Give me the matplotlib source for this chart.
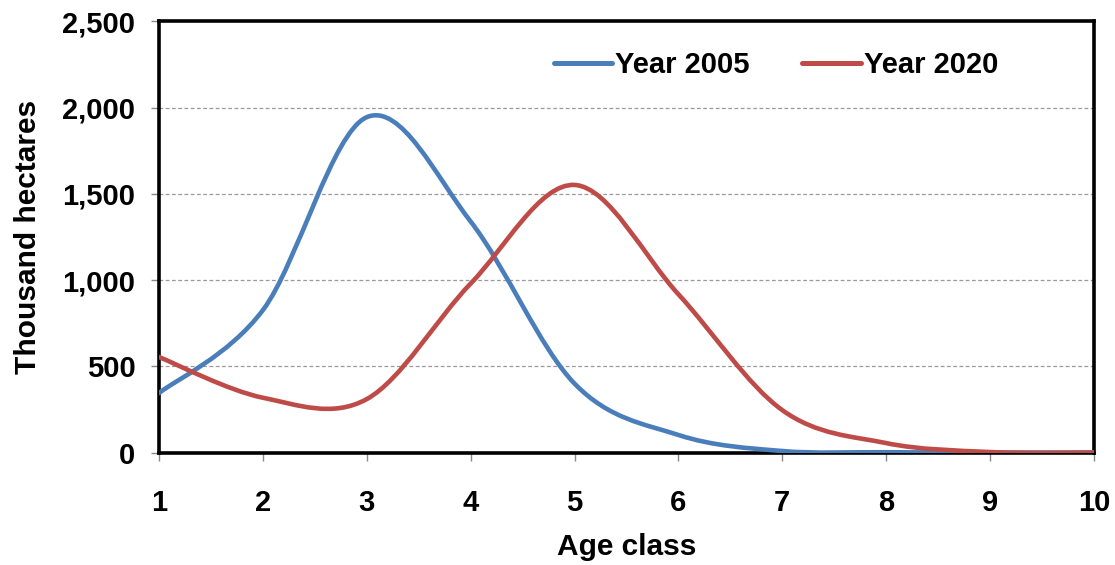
import numpy as np
import matplotlib.pyplot as plt
from matplotlib.path import Path
from matplotlib.patches import PathPatch
from matplotlib.lines import Line2D
from matplotlib.ticker import FuncFormatter

plt.rcParams['font.family'] = ['Liberation Sans', 'DejaVu Sans']
plt.rcParams['font.weight'] = 'bold'

# --- data ---
age_class = [1, 2, 3, 4, 5, 6, 7, 8, 9, 10]
year_2005 = [345, 826, 1945, 1340, 400, 102, 9, 2, 0, 0]
year_2020 = [554, 318, 310, 980, 1552, 918, 246, 55, 3, 0]
series_names = ['Year 2005', 'Year 2020']
series_colors = ['#4A7EBB', '#BE4B48']
y_ticks = [0, 500, 1000, 1500, 2000, 2500]


def smooth_path(xs, ys):
    # Excel-style smoothed line: cubic Bezier segments through every point
    pts = np.column_stack([xs, ys]).astype(float)
    n = len(pts)
    verts = [pts[0]]
    codes = [Path.MOVETO]
    for i in range(n - 1):
        p_prev = pts[i - 1] if i > 0 else pts[i]
        p_next2 = pts[i + 2] if i + 2 < n else pts[i + 1]
        c1 = pts[i] + (pts[i + 1] - p_prev) / 6.0
        c2 = pts[i + 1] - (p_next2 - pts[i]) / 6.0
        verts += [c1, c2, pts[i + 1]]
        codes += [Path.CURVE4] * 3
    return Path(verts, codes)


fig = plt.figure(figsize=(11.15, 5.65), dpi=100)
ax = fig.add_axes([0.1426, 0.199, 0.8385, 0.763])

handles = []
for ys, name, col in zip([year_2005, year_2020], series_names, series_colors):
    patch = PathPatch(smooth_path(age_class, ys), facecolor='none', edgecolor=col,
                      lw=3.3, capstyle='round', joinstyle='round', zorder=3)
    ax.add_patch(patch)
    handles.append(Line2D([], [], color=col, lw=3.6, solid_capstyle='round', label=name))

ax.set_xlim(1, 10)
ax.set_ylim(0, 2500)
ax.set_xticks(age_class)
ax.set_yticks(y_ticks)
ax.yaxis.set_major_formatter(FuncFormatter(lambda v, p: f"{int(v):,}"))

for y in y_ticks[1:-1]:
    ax.axhline(y, color='#999999', lw=0.9, ls=(0, (3, 2)), zorder=1)

for s in ax.spines.values():
    s.set_linewidth(2.6)
    s.set_color('black')

ax.tick_params(axis='both', direction='out', length=6, width=1, color='#888888',
               labelsize=21)
ax.tick_params(axis='x', pad=20)
ax.tick_params(axis='y', pad=11)

ax.set_xlabel('Age class', fontsize=21.5, fontweight='bold', labelpad=12)
ax.set_ylabel('Thousand hectares', fontsize=21.5, fontweight='bold', labelpad=15)

ax.legend(handles=handles, loc='center', bbox_to_anchor=(0.66, 0.898), ncol=2,
          frameon=False, fontsize=21, handlelength=2.0, handletextpad=0.1,
          columnspacing=1.8)

fig.savefig('out.png', dpi=100)
